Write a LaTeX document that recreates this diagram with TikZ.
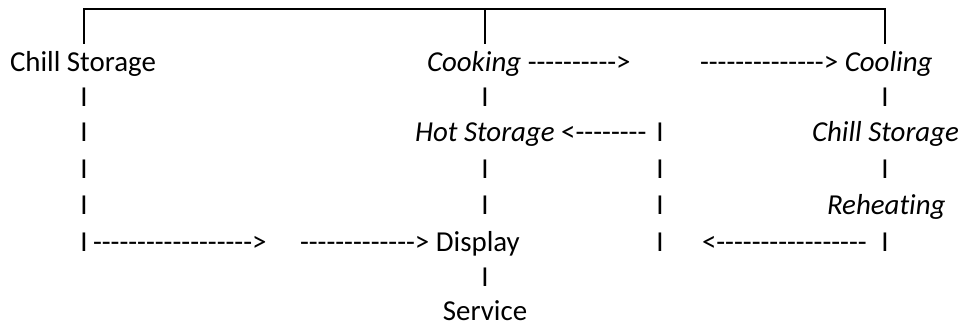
\documentclass[tikz,border=0pt]{standalone}
\usepackage{fontspec}
\setmainfont{Carlito}[Ligatures={TeXOff,CommonOff}]
\begin{document}
\begin{tikzpicture}[x=1pt,y=-1pt,
  txt/.style={inner sep=0pt,outer sep=0pt,font=\fontsize{28.9}{34}\selectfont,anchor=base west},
  bar/.style={txt,anchor=base},
  brk/.style={line width=2pt,line cap=rect}]
\useasboundingbox (0,0) rectangle (965,329);
% row 0
\node[txt] (cs1) at (10,71) {Chill Storage};
\node[txt] (cook) at (427,71) {\textit{Cooking} ---------->};
\node[txt] (cool) at (700,71) {--------------> \textit{Cooling}};
% row 1
\node[bar] (a1) at (84,106) {I};
\node[bar] (b1) at (485,106) {I};
\node[bar] (d1) at (885,106) {I};
% row 2
\node[bar] (a2) at (84,141) {I};
\node[txt] (hot) at (415,141) {\textit{Hot Storage} <--------};
\node[bar] (c2) at (660,141) {I};
\node[txt] (cs2) at (812,141) {\textit{Chill Storage}};
% row 3
\node[bar] (a3) at (84,178) {I};
\node[bar] (b3) at (485,178) {I};
\node[bar] (c3) at (660,178) {I};
\node[bar] (d3) at (885,178) {I};
% row 4
\node[bar] (a4) at (84,214) {I};
\node[bar] (b4) at (485,214) {I};
\node[bar] (c4) at (660,214) {I};
\node[txt] (reh) at (827,214) {\textit{Reheating}};
% row 5
\node[bar] (a5) at (84,251) {I};
\node[txt] (l5) at (93,251) {------------------>};
\node[txt] (disp) at (300,251) {-------------> Display};
\node[bar] (c5) at (660,251) {I};
\node[txt] (r5) at (702,251) {<-----------------};
\node[bar] (d5) at (885,251) {I};
% row 6
\node[bar] (b6) at (485,286) {I};
% row 7
\node[bar] (serv) at (485,320) {Service};
% bracket
\coordinate (fl) at (84,43);
\coordinate (fm) at (485,43);
\coordinate (fr) at (885,43);
\coordinate (top) at (485,9);
\draw[brk] (fl) |- (top) -| (fr);
\draw[brk] (fm) -- (top);
\end{tikzpicture}
\end{document}
